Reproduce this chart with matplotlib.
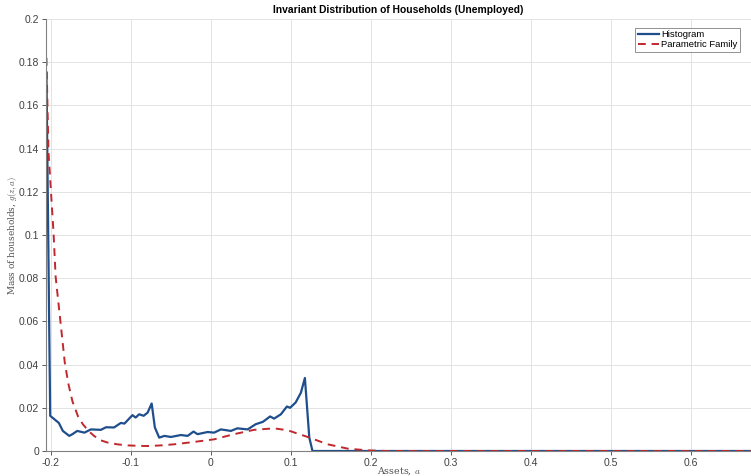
import matplotlib
matplotlib.use("Agg")
import matplotlib.pyplot as plt

# histogram of the invariant distribution
hist_a = [-0.2055, -0.2008, -0.190, -0.185, -0.177, -0.173, -0.167, -0.158, -0.150,
          -0.1375, -0.131, -0.121, -0.1125, -0.108, -0.098, -0.094, -0.0896, -0.084,
          -0.079, -0.074, -0.070, -0.0646, -0.058, -0.050, -0.0375, -0.029, -0.0217,
          -0.0167, -0.004, 0.004, 0.0125, 0.025, 0.033, 0.046, 0.056, 0.065, 0.074,
          0.079, 0.0875, 0.095, 0.099, 0.106, 0.1125, 0.1175, 0.123, 0.127, 0.68]
hist_g = [0.175, 0.0163, 0.013, 0.0093, 0.0070, 0.0078, 0.0093, 0.0085, 0.0100,
          0.0098, 0.0110, 0.0109, 0.0130, 0.0127, 0.0166, 0.0155, 0.0170, 0.0163,
          0.0178, 0.0220, 0.0109, 0.0062, 0.0070, 0.0065, 0.0074, 0.0070, 0.0090,
          0.0078, 0.0088, 0.0085, 0.0100, 0.0093, 0.0105, 0.0100, 0.0124, 0.0135, 0.0160,
          0.0150, 0.0170, 0.0206, 0.0200, 0.0225, 0.0270, 0.0338, 0.0062, 0.0, 0.0]

# parametric family fit
param_a = [-0.2055, -0.203, -0.200, -0.1966, -0.194, -0.188, -0.1825, -0.178, -0.173,
           -0.166, -0.160, -0.153, -0.146, -0.138, -0.129, -0.117, -0.104, -0.091,
           -0.079, -0.062, -0.046, -0.021, 0.004, 0.029, 0.054, 0.079, 0.096, 0.121,
           0.146, 0.171, 0.196, 0.22, 0.68]
param_g = [0.182, 0.139, 0.121, 0.1008, 0.0807, 0.0599, 0.0407, 0.031, 0.0230,
           0.016, 0.0124, 0.0093, 0.0070, 0.0050, 0.0039, 0.0031, 0.0026, 0.0024,
           0.0023, 0.0026, 0.0031, 0.0042, 0.0054, 0.0078, 0.0098, 0.0105, 0.0096, 0.0065,
           0.0031, 0.0011, 0.0003, 0.0, 0.0]

xticks = [-0.2, -0.1, 0, 0.1, 0.2, 0.3, 0.4, 0.5, 0.6]
xticklabels = ["-0.2", "-0.1", "0", "0.1", "0.2", "0.3", "0.4", "0.5", "0.6"]
yticks = [0, 0.02, 0.04, 0.06, 0.08, 0.1, 0.12, 0.14, 0.16, 0.18, 0.2]
yticklabels = ["0", "0.02", "0.04", "0.06", "0.08", "0.1", "0.12", "0.14", "0.16", "0.18", "0.2"]

plt.rcParams["font.family"] = ["Liberation Sans", "DejaVu Sans"]
plt.rcParams["mathtext.fontset"] = "cm"

fig = plt.figure(figsize=(7.51, 4.76), dpi=100)
ax = fig.add_axes([0.0613, 0.0525, 0.9387, 0.9076])

ax.plot(hist_a, hist_g, color="#1f4e8c", lw=1.6, label="Histogram")
ax.plot(param_a, param_g, color="#c0282d", lw=1.4, ls=(0, (4, 3)), label="Parametric Family")

ax.set_xlim(-0.206, 0.675)
ax.set_ylim(0, 0.2)
ax.set_xticks(xticks)
ax.set_xticklabels(xticklabels)
ax.set_yticks(yticks)
ax.set_yticklabels(yticklabels)
ax.tick_params(labelsize=7.5, colors="#404040", length=3, width=0.6, pad=2)
ax.grid(True, color="#e3e3e3", lw=0.7)
ax.set_axisbelow(True)
for s in ["top", "right"]:
    ax.spines[s].set_visible(False)
for s in ["left", "bottom"]:
    ax.spines[s].set_color("#808080")
    ax.spines[s].set_linewidth(0.8)

ax.set_title("Invariant Distribution of Households (Unemployed)", fontsize=7.4, fontweight="bold", pad=4)
ax.set_xlabel("Assets, $a$", family="serif", fontsize=6.8, color="#505050", labelpad=-2)
ax.set_ylabel("Mass of households, $g(z,a)$", family="serif", fontsize=6.4, color="#505050", labelpad=0)

leg = ax.legend(loc="upper right", bbox_to_anchor=(0.985, 0.98), fontsize=6.8, frameon=True,
                fancybox=False, handlelength=2.2, handletextpad=0.3, borderpad=0.3,
                labelspacing=0.1, borderaxespad=0)
leg.get_frame().set_edgecolor("#606060")
leg.get_frame().set_linewidth(0.6)

fig.savefig("out.png", dpi=100)
